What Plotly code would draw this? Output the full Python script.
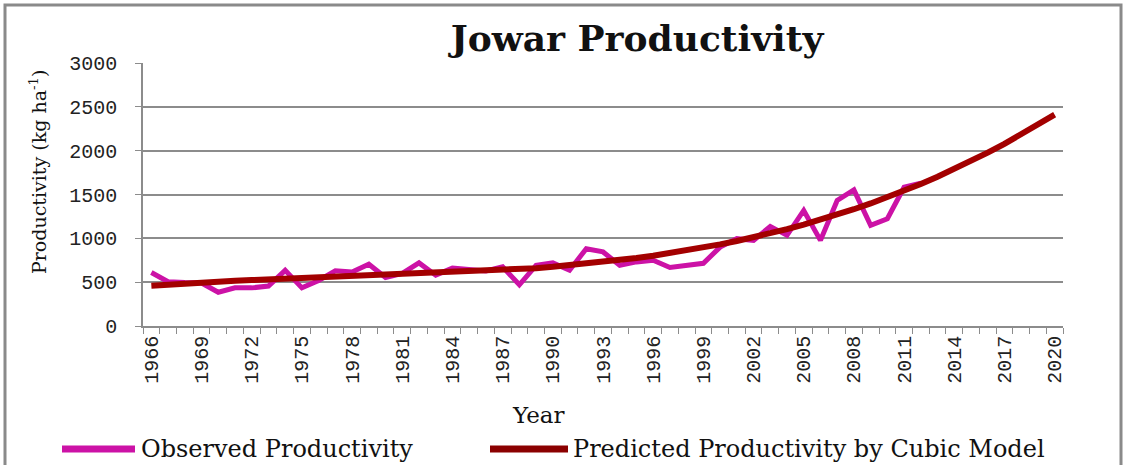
import plotly.graph_objects as go

years = list(range(1966, 2021))
obs_years = list(range(1966, 2013))
observed = [610, 505, 495, 490, 385, 435, 435, 455, 635, 435,
            520, 630, 617, 705, 553, 600, 720, 580, 660, 648,
            628, 675, 470, 693, 720, 636, 882, 845, 693, 731,
            750, 667, 693, 715, 900, 996, 975, 1136, 1034, 1318,
            977, 1432, 1553, 1148, 1224, 1583, 1629]
predicted = [460, 474, 486, 497, 507, 516, 524, 532, 539, 545,
             551, 557, 563, 569, 575, 582, 589, 596, 605, 614,
             624, 635, 647, 660, 675, 692, 710, 730, 752, 776,
             802, 830, 861, 895, 931, 970, 1012, 1057, 1105, 1156,
             1211, 1270, 1332, 1398, 1468, 1542, 1620, 1702, 1789, 1880,
             1977, 2078, 2183, 2294, 2410]
x_ticks = list(range(1966, 2021, 3))
y_ticks = [0, 500, 1000, 1500, 2000, 2500, 3000]

W, H = 1127, 465
L, R, T, B = 143, 1063, 63, 326


def px(x):
    return (x - L) / (R - L)


def py(y):
    return (B - y) / (B - T)


OBS_C = "#CC12A6"
PRED_C = "#A30000"
GRID_C = "#8C8C8C"

fig = go.Figure()
fig.add_trace(go.Scatter(x=obs_years, y=observed, mode="lines",
                         line=dict(color=OBS_C, width=5),
                         name="Observed Productivity"))
fig.add_trace(go.Scatter(x=years, y=predicted, mode="lines",
                         line=dict(color=PRED_C, width=6),
                         name="Predicted Productivity by Cubic Model"))

tick_font = dict(family="Liberation Mono", size=20, color="#222222")
serif = "DejaVu Serif"

fig.update_layout(
    width=W, height=H,
    margin=dict(l=L, r=W - R, t=T, b=H - B),
    paper_bgcolor="white", plot_bgcolor="white",
    showlegend=False,
    title=dict(text="<b>Jowar Productivity</b>", x=637 / W, xanchor="center",
               y=1 - 38 / H, yanchor="middle", yref="container",
               font=dict(family=serif, size=36, color="#111111")),
    xaxis=dict(range=[1965.5, 2020.5], tickmode="array", tickvals=x_ticks,
               ticktext=[str(v) for v in x_ticks], tickangle=-90,
               ticks="", showgrid=False, zeroline=False,
               showline=True, linecolor=GRID_C, linewidth=1.5,
               tickfont=tick_font,
               minor=dict(ticks="outside", tick0=1965.5, dtick=1,
                          ticklen=6, tickcolor=GRID_C, tickwidth=1.2,
                          showgrid=False)),
    yaxis=dict(range=[0, 3000], tickmode="array", tickvals=y_ticks,
               ticks="outside", ticklen=6, tickcolor=GRID_C, tickwidth=1.2,
               showgrid=True, gridcolor=GRID_C, gridwidth=1.5,
               zeroline=False, showline=True, linecolor=GRID_C, linewidth=1.5,
               tickfont=tick_font, ticklabelstandoff=14),
)

# axis titles
fig.add_annotation(text="Productivity (kg ha<sup>-1</sup>)", xref="paper", yref="paper",
                   x=px(38), y=py(172), textangle=-90, showarrow=False,
                   xanchor="center", yanchor="middle",
                   font=dict(family=serif, size=19, color="#111111"))
fig.add_annotation(text="Year", xref="paper", yref="paper",
                   x=px(538), y=py(415), showarrow=False,
                   xanchor="center", yanchor="middle",
                   font=dict(family=serif, size=23, color="#111111"))

# legend (manual)
leg_y = 449
fig.add_shape(type="line", xref="paper", yref="paper",
              x0=px(62), x1=px(135), y0=py(leg_y), y1=py(leg_y),
              line=dict(color=OBS_C, width=7))
fig.add_annotation(text="Observed Productivity", xref="paper", yref="paper",
                   x=px(139), y=py(leg_y), showarrow=False,
                   xanchor="left", yanchor="middle",
                   font=dict(family=serif, size=24, color="#111111"))
fig.add_shape(type="line", xref="paper", yref="paper",
              x0=px(490), x1=px(568), y0=py(leg_y), y1=py(leg_y),
              line=dict(color="#8B0000", width=7))
fig.add_annotation(text="Predicted Productivity by Cubic Model", xref="paper", yref="paper",
                   x=px(571), y=py(leg_y), showarrow=False,
                   xanchor="left", yanchor="middle",
                   font=dict(family=serif, size=24, color="#111111"))

# outer frame
fig.add_shape(type="rect", xref="paper", yref="paper",
              x0=px(5), x1=px(1121), y0=py(475), y1=py(5),
              line=dict(color="#8A8A8A", width=3), layer="below")

fig.write_html("out.html")
